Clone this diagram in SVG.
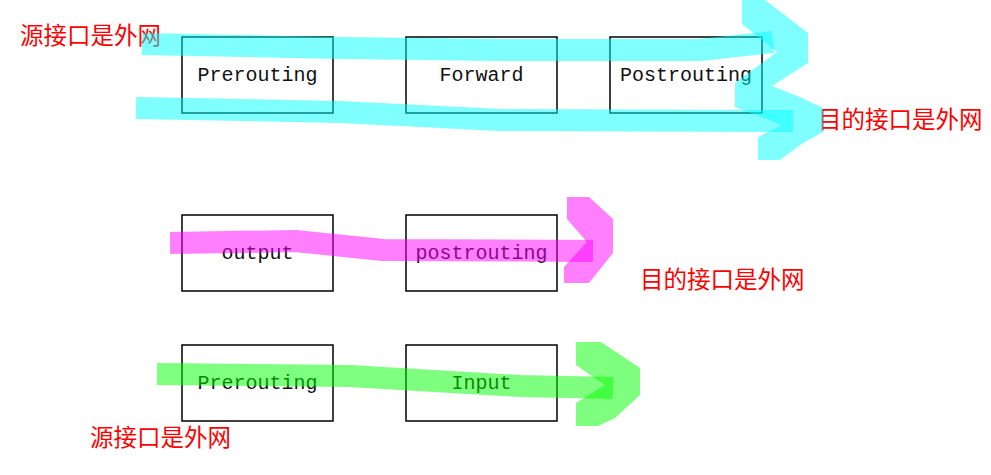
<svg xmlns="http://www.w3.org/2000/svg" width="991" height="475" viewBox="0 0 991 475">
<style>
.box{fill:#fff;stroke:#000;stroke-width:1.5}
.lbl{font-family:"Liberation Mono","DejaVu Sans Mono",monospace;font-size:20px;fill:#111;text-anchor:middle}
.note{font-family:"Noto Sans CJK SC","Noto Sans CJK JP",sans-serif;font-size:23.5px;fill:#ff0000}
.ln{fill:none;stroke-width:22;stroke-linecap:butt;stroke-linejoin:round;opacity:0.5}
.hd{opacity:0.5;stroke:none}
.cy{stroke:#00ffff}
.mg{stroke:#ff00ff}
.gr{stroke:#00ff00}
</style>
<rect width="991" height="475" fill="#fff"/>
<g id="n-prerouting1"><rect class="box" x="182" y="37" width="151" height="76"/><text class="lbl" x="257.5" y="81">Prerouting</text></g>
<g id="n-forward"><rect class="box" x="406" y="37" width="151" height="76"/><text class="lbl" x="481.5" y="81">Forward</text></g>
<g id="n-postrouting1"><rect class="box" x="610" y="37" width="152" height="76"/><text class="lbl" x="686" y="81">Postrouting</text></g>
<g id="n-output"><rect class="box" x="182" y="215" width="151" height="76"/><text class="lbl" x="257.5" y="259">output</text></g>
<g id="n-postrouting2"><rect class="box" x="406" y="215" width="151" height="76"/><text class="lbl" x="481.5" y="259">postrouting</text></g>
<g id="n-prerouting2"><rect class="box" x="182" y="345" width="151" height="76"/><text class="lbl" x="257.5" y="389">Prerouting</text></g>
<g id="n-input"><rect class="box" x="406" y="345" width="151" height="76"/><text class="lbl" x="481.5" y="389">Input</text></g>
<g id="notes">
<text class="note" x="20" y="44">源接口是外网</text>
<text class="note" x="818" y="128">目的接口是外网</text>
<text class="note" x="640" y="288">目的接口是外网</text>
<text class="note" x="90" y="446">源接口是外网</text>
</g>
<g id="connectors">
<polyline class="ln cy" points="142,44 340,48 500,50 700,50 773,42"/>
<polyline class="ln cy" points="136,108 340,112 500,120 793,121"/>
<polygon class="hd" fill="#00ffff" points="742,0 765,0 808,33 808,63 772,86 800,97 823,108 823,132 803,143 780,160 758,160 758,137 782,125 735,107 735,83 777,52 742,24"/>
<polyline class="ln mg" points="170,243 295,241 383,250 593,251"/>
<polygon class="hd" fill="#ff00ff" points="567,197 589,197 613,219 613,253 589,283 564,283 564,267 587,242 567,219"/>
<polyline class="ln gr" points="157,374 350,376 520,386 613,388"/>
<polygon class="hd" fill="#00ff00" points="576,342 601,342 640,368 640,395 615,418 598,426 576,426 576,403 605,385 576,365"/>
</g>
</svg>
